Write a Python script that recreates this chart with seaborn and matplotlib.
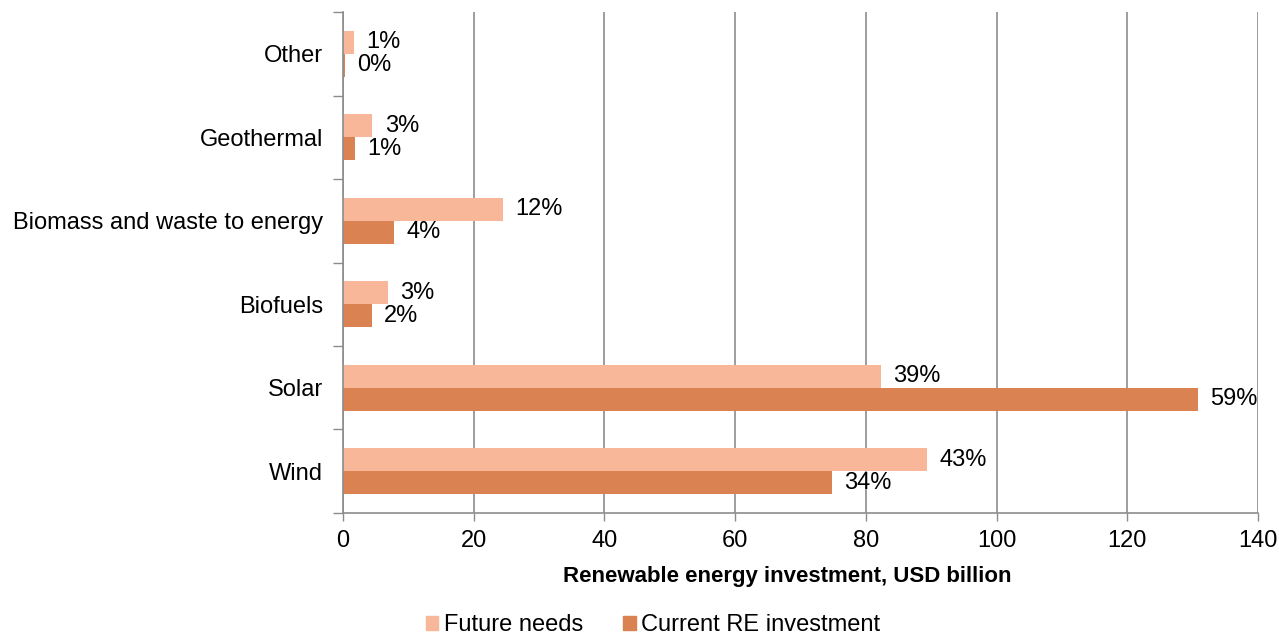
import numpy as np
import pandas as pd
import matplotlib
matplotlib.use('Agg')
import matplotlib.pyplot as plt
import seaborn as sns
from matplotlib.ticker import FixedLocator

# data
categories = ['Other', 'Geothermal', 'Biomass and waste to energy', 'Biofuels', 'Solar', 'Wind']
future_needs = [1.7, 4.5, 24.5, 6.9, 82.3, 89.3]
current_investment = [0.3, 1.9, 7.9, 4.4, 130.8, 74.8]
future_share = ['1%', '3%', '12%', '3%', '39%', '43%']
current_share = ['0%', '1%', '4%', '2%', '59%', '34%']
series_names = ['Future needs', 'Current RE investment']
x_ticks = [0, 20, 40, 60, 80, 100, 120, 140]

colors = {'Future needs': '#F8B799', 'Current RE investment': '#DA8252'}

df = pd.DataFrame({
    'category': categories * 2,
    'series': [series_names[0]] * len(categories) + [series_names[1]] * len(categories),
    'value': future_needs + current_investment,
})

sns.set_theme(style='white')
plt.rcParams['font.family'] = ['Liberation Sans', 'DejaVu Sans']

fs = 17

fig = plt.figure(figsize=(12.79, 6.42), dpi=100)
ax = fig.add_axes([0.268, 0.201, 0.7156, 0.780])

sns.barplot(data=df, y='category', x='value', hue='series', order=categories,
            hue_order=series_names, palette=colors, saturation=1, width=0.55, linewidth=0,
            orient='h', ax=ax, legend=False)

for container, labels in zip(ax.containers, [future_share, current_share]):
    ax.bar_label(container, labels=labels, padding=9, fontsize=fs, color='black')

ax.set_xlim(0, 140)
ax.set_ylim(len(categories) - 0.5, -0.5)
ax.set_xticks(x_ticks)
ax.set_xticklabels([str(t) for t in x_ticks], fontsize=fs, color='black')
ax.xaxis.grid(True, color='#8C8C8C', linewidth=1.2)
ax.yaxis.grid(False)
ax.set_axisbelow(True)

ax.yaxis.set_minor_locator(FixedLocator(np.arange(-0.5, len(categories), 1.0)))
ax.tick_params(axis='y', which='major', length=0, pad=14, labelsize=fs, labelcolor='black')
ax.tick_params(axis='y', which='minor', left=True, length=7, width=1, color='#8C8C8C', direction='out')
ax.tick_params(axis='x', which='major', bottom=True, length=6, width=1, color='#8C8C8C',
               direction='out', pad=6)

for side in ['top', 'right']:
    ax.spines[side].set_visible(False)
for side in ['left', 'bottom']:
    ax.spines[side].set_color('#8C8C8C')
    ax.spines[side].set_linewidth(1.2)

ax.set_ylabel('')
ax.set_xlabel('Renewable energy investment, USD billion', fontsize=16, fontweight='bold',
              color='black', labelpad=10)
ax.xaxis.set_label_coords(0.486, -0.105)

handles = [plt.Rectangle((0, 0), 1, 1, color=colors[s]) for s in series_names]
fig.legend(handles, series_names, loc='lower center', bbox_to_anchor=(0.5106, -0.024), ncol=2,
           frameon=False, fontsize=fs, handlelength=0.55, handleheight=0.55,
           handletextpad=0.25, columnspacing=1.65, labelcolor='black')

plt.savefig('out.png', dpi=100)
